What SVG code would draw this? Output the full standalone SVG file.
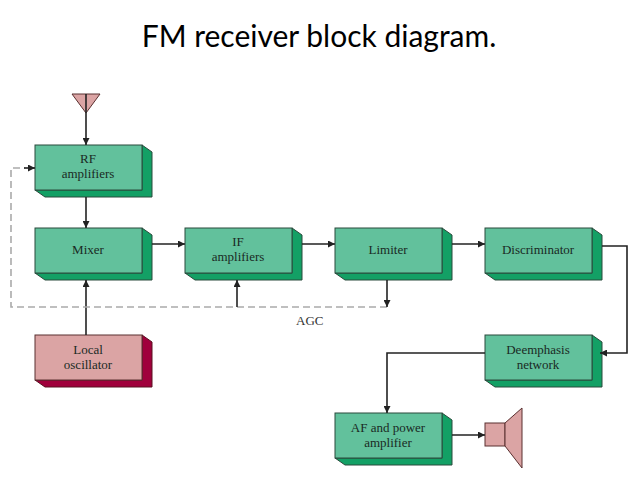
<svg xmlns="http://www.w3.org/2000/svg" width="638" height="479" viewBox="0 0 638 479">
<defs>
<style>
.f{fill:#62c19c;stroke:#2a4a3c;stroke-width:1}
.s{fill:#13a065;stroke:#2a4a3c;stroke-width:1}
.pf{fill:#dba4a4;stroke:#5a3030;stroke-width:1}
.ps{fill:#a0003c;stroke:#5a1020;stroke-width:1}
.t{font-family:"Liberation Serif",serif;font-size:13px;fill:#1a2a24;text-anchor:middle}
.c{fill:none;stroke:#222;stroke-width:1.6}
.d{fill:none;stroke:#aaa;stroke-width:1.6;stroke-dasharray:7,4}
</style>
<marker id="a" viewBox="0 0 10 10" refX="10" refY="5" markerWidth="7" markerHeight="7" orient="auto" markerUnits="userSpaceOnUse"><path d="M0,0L10,5L0,10z" fill="#222"/></marker>
</defs>
<rect width="638" height="479" fill="#fff"/>
<text x="319" y="47" font-family="Lato,'Open Sans',sans-serif" font-size="30" text-anchor="middle" fill="#000">FM receiver block diagram.</text>
<g id="antenna"><polygon points="72,94 100,94 86,113" class="pf"/></g>
<g id="rf"><polygon class="s" points="142,145 152,152 152,197 45,197 35,190 142,190"/><rect class="f" x="35" y="145" width="107" height="45"/><text class="t" x="88" y="163">RF</text><text class="t" x="88" y="178">amplifiers</text></g>
<g id="mixer"><polygon class="s" points="142,228 152,235 152,280 45,280 35,273 142,273"/><rect class="f" x="35" y="228" width="107" height="45"/><text class="t" x="88" y="254">Mixer</text></g>
<g id="if"><polygon class="s" points="292,228 302,235 302,280 195,280 185,273 292,273"/><rect class="f" x="185" y="228" width="107" height="45"/><text class="t" x="238" y="246">IF</text><text class="t" x="238" y="261">amplifiers</text></g>
<g id="limiter"><polygon class="s" points="442,228 452,235 452,280 345,280 335,273 442,273"/><rect class="f" x="335" y="228" width="107" height="45"/><text class="t" x="388" y="254">Limiter</text></g>
<g id="disc"><polygon class="s" points="592,228 602,235 602,280 495,280 485,273 592,273"/><rect class="f" x="485" y="228" width="107" height="45"/><text class="t" x="538" y="254">Discriminator</text></g>
<g id="lo"><polygon class="ps" points="142,335 152,342 152,387 45,387 35,380 142,380"/><rect class="pf" x="35" y="335" width="107" height="45"/><text class="t" x="88" y="354">Local</text><text class="t" x="88" y="369">oscillator</text></g>
<g id="deemph"><polygon class="s" points="592,335 602,342 602,387 495,387 485,380 592,380"/><rect class="f" x="485" y="335" width="107" height="45"/><text class="t" x="538" y="354">Deemphasis</text><text class="t" x="538" y="369">network</text></g>
<g id="af"><polygon class="s" points="442,413 452,420 452,465 345,465 335,458 442,458"/><rect class="f" x="335" y="413" width="107" height="45"/><text class="t" x="388" y="432">AF and power</text><text class="t" x="388" y="447">amplifier</text></g>
<g id="speaker"><rect class="pf" x="485" y="423" width="20" height="23"/><polygon class="pf" points="505,423 522,408 522,468 505,446"/></g>
<g id="connectors">
<path class="c" d="M86,94V145" marker-end="url(#a)"/>
<path class="c" d="M86,197V228" marker-end="url(#a)"/>
<path class="c" d="M152,244H185" marker-end="url(#a)"/>
<path class="c" d="M302,244H335" marker-end="url(#a)"/>
<path class="c" d="M452,244H485" marker-end="url(#a)"/>
<path class="c" d="M86,335V280" marker-end="url(#a)"/>
<path class="c" d="M602,246H627V353H600" marker-end="url(#a)"/>
<path class="c" d="M485,353H387V413" marker-end="url(#a)"/>
<path class="c" d="M452,435H485" marker-end="url(#a)"/>
<path class="d" d="M387,307H11V168H25"/>
<path class="c" d="M24,168H35" marker-end="url(#a)"/>
<path class="c" d="M237,307V280" marker-end="url(#a)"/>
<path class="c" d="M387,280V307" marker-end="url(#a)"/>
<text x="296" y="325" font-family="Liberation Serif,serif" font-size="13" fill="#333">AGC</text>
</g>
</svg>
